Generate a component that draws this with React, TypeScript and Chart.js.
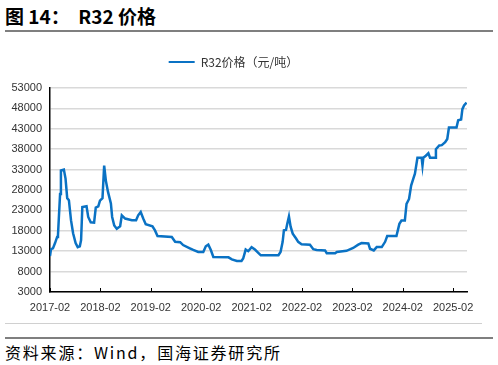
import React, { useEffect, useRef } from "react";
import { Chart, registerables } from "chart.js";

Chart.register(...registerables);

// months since 2017-02
const months: number[] = [
  0, 0.24, 0.7, 1.2, 1.7, 1.9, 2.1, 2.4, 2.6, 3.3, 3.7, 4.1, 4.5, 5.0, 5.5, 6.1, 6.6, 7.1, 7.4, 7.7,
  8.7, 9.1, 9.7, 10.5, 10.9, 11.5, 11.9, 12.5, 12.9, 13.3, 13.8, 14.5, 14.8, 15.3, 15.9, 16.7, 17.1,
  17.9, 19.5, 20.5, 21.0, 21.6, 22.2, 22.8, 24.4, 25.0, 25.6, 29.0, 29.8, 31.0, 31.7, 33.3, 34.1,
  35.3, 36.5, 37.1, 37.7, 38.3, 38.9, 42.5, 43.3, 44.5, 45.6, 46.0, 46.6, 47.2, 48.0, 48.8, 49.6,
  50.2, 54.4, 54.9, 55.4, 55.7, 56.2, 56.5, 56.9, 57.3, 57.8, 58.6, 59.1, 59.9, 61.9, 62.7, 63.5,
  65.5, 65.9, 67.9, 68.3, 70.6, 72.2, 73.4, 74.2, 75.8, 76.2, 77.1, 77.8, 79.0, 79.8, 80.3, 82.5,
  83.2, 83.7, 84.5, 84.9, 85.5, 86.0, 86.5, 86.9, 87.5, 88.5, 88.7, 88.9, 89.5, 90.1, 90.5, 91.7,
  91.9, 92.7, 93.3, 94.1, 94.6, 95.0, 96.8, 97.2, 97.9, 98.2, 98.6, 99.2,
];

const prices: number[] = [
  11800, 13500, 13700, 15000, 16500, 17000, 21000, 27000, 32800, 33000, 30800, 26000, 25500, 20600,
  17400, 15000, 14000, 14200, 15700, 23800, 24000, 21400, 20100, 20000, 23700, 24000, 25400, 26000,
  34000, 30300, 27600, 24700, 21400, 19300, 18500, 19100, 21800, 21000, 20600, 20600, 21800, 22600,
  21000, 19600, 19100, 18100, 16700, 16500, 15300, 15200, 14500, 13700, 13300, 12800, 12800, 14200,
  14600, 13300, 11600, 11500, 11000, 10600, 10600, 11200, 13400, 13000, 14000, 13400, 12600, 12000,
  12000, 12800, 15300, 18100, 18200, 19700, 21500, 19000, 17300, 16100, 15300, 14700, 14600, 13500,
  13300, 13200, 12500, 12500, 12800, 13100, 13800, 14600, 15000, 14900, 13600, 13200, 14000, 14000,
  15300, 16700, 16700, 19700, 20500, 20500, 24600, 25800, 29100, 30700, 32000, 35900, 35900, 34000,
  35900, 36400, 37000, 35900, 35900, 38000, 38900, 39000, 39700, 40500, 43300, 43300, 45100, 45300,
  47800, 48700, 49400,
];

const xTickLabels: string[] = [
  "2017-02", "2018-02", "2019-02", "2020-02", "2021-02", "2022-02", "2023-02", "2024-02", "2025-02",
];

const seriesName = "R32价格（元/吨）";
const titleText = "图 14：  R32 价格";
const sourceText = "资料来源：Wind，国海证券研究所";

const innerTicks = {
  id: "innerTicks",
  afterDraw(chart: any) {
    const sx = chart.scales.x;
    const ctx = chart.ctx;
    const bottom = chart.chartArea.bottom;
    ctx.save();
    ctx.strokeStyle = "#000";
    ctx.lineWidth = 1;
    sx.ticks.forEach((t: any) => {
      const px = Math.round(sx.getPixelForValue(t.value)) + 0.5;
      ctx.beginPath();
      ctx.moveTo(px, bottom);
      ctx.lineTo(px, bottom - 4);
      ctx.stroke();
    });
    ctx.restore();
  },
};

const legendGap = {
  id: "legendGap",
  beforeUpdate(chart: any) {
    const lg = chart.legend;
    if (lg && !lg.__patched) {
      const orig = lg.fit;
      lg.fit = function (this: any) {
        orig.call(this);
        this.height += 10;
      };
      lg.__patched = true;
    }
  },
};

export default function App() {
  const ref = useRef<HTMLCanvasElement>(null);
  useEffect(() => {
    if (!ref.current) return;
    const chart = new Chart(ref.current, {
      type: "line",
      data: {
        datasets: [
          {
            label: seriesName,
            data: months.map((m, i) => ({ x: m, y: prices[i] })),
            borderColor: "#0a72c4",
            backgroundColor: "#0a72c4",
            borderWidth: 2.5,
            pointRadius: 0,
            tension: 0,
          },
        ],
      },
      options: {
        responsive: false,
        animation: false,
        layout: { padding: { top: 6, right: 31, left: 0, bottom: 0 } },
        plugins: {
          legend: {
            position: "top",
            labels: {
              boxWidth: 26,
              boxHeight: 2,
              padding: 10,
              color: "#333",
              font: { family: "'Noto Sans CJK SC', 'Noto Sans', sans-serif", size: 12 },
              generateLabels: (c: any) =>
                Chart.defaults.plugins.legend.labels.generateLabels(c).map((l: any) => ({
                  ...l,
                  lineWidth: 0,
                })),
            },
          },
          tooltip: { enabled: false },
        },
        scales: {
          x: {
            type: "linear",
            min: 0,
            max: 99.3,
            afterBuildTicks: (scale: any) => {
              scale.ticks = xTickLabels.map((_, i) => ({ value: i * 12 }));
            },
            afterFit: (scale: any) => {
              scale.height = 28;
            },
            ticks: {
              autoSkip: false,
              maxRotation: 0,
              padding: 9,
              color: "#333",
              font: { family: "'Liberation Sans', Arial, sans-serif", size: 11 },
              callback: (v: any) => xTickLabels[Math.round(Number(v) / 12)] ?? "",
            },
            grid: { display: false, drawTicks: false },
            border: { color: "#000", width: 1.5 },
          },
          y: {
            min: 3000,
            max: 53000,
            afterFit: (scale: any) => {
              scale.width = 50;
            },
            ticks: {
              stepSize: 5000,
              padding: 8,
              color: "#333",
              font: { family: "'Liberation Sans', Arial, sans-serif", size: 11 },
              callback: (v: any) => String(v),
            },
            grid: { color: "#d9d9d9", lineWidth: 1.5, drawTicks: false },
            border: { color: "#000", width: 1.5 },
          },
        },
      },
      plugins: [innerTicks, legendGap],
    });
    return () => chart.destroy();
  }, []);

  return (
    <div style={{ position: "absolute", left: 0, top: 0, width: 498, height: 365, background: "#fff", overflow: "hidden" }}>
      <div
        style={{
          position: "absolute",
          left: 5,
          top: 3,
          fontFamily: "'Noto Sans CJK SC', sans-serif",
          fontWeight: 700,
          fontSize: 19,
          lineHeight: "26px",
          color: "#000",
          whiteSpace: "pre",
        }}
      >
        {titleText}
      </div>
      <div style={{ position: "absolute", left: 5, top: 30, width: 488, height: 2, background: "#7f7f7f" }} />
      <canvas ref={ref} width={498} height={280} style={{ position: "absolute", left: 0, top: 40, width: 498, height: 280 }} />
      <div style={{ position: "absolute", left: 5, top: 323, width: 477, height: 1, background: "#d0d0d0" }} />
      <div style={{ position: "absolute", left: 5, top: 337, width: 488, height: 2, background: "#7f7f7f" }} />
      <div
        style={{
          position: "absolute",
          left: 5,
          top: 341,
          fontFamily: "'Noto Sans CJK SC', sans-serif",
          fontSize: 16,
          letterSpacing: 1.8,
          lineHeight: "22px",
          color: "#000",
          whiteSpace: "pre",
        }}
      >
        {sourceText}
      </div>
    </div>
  );
}
